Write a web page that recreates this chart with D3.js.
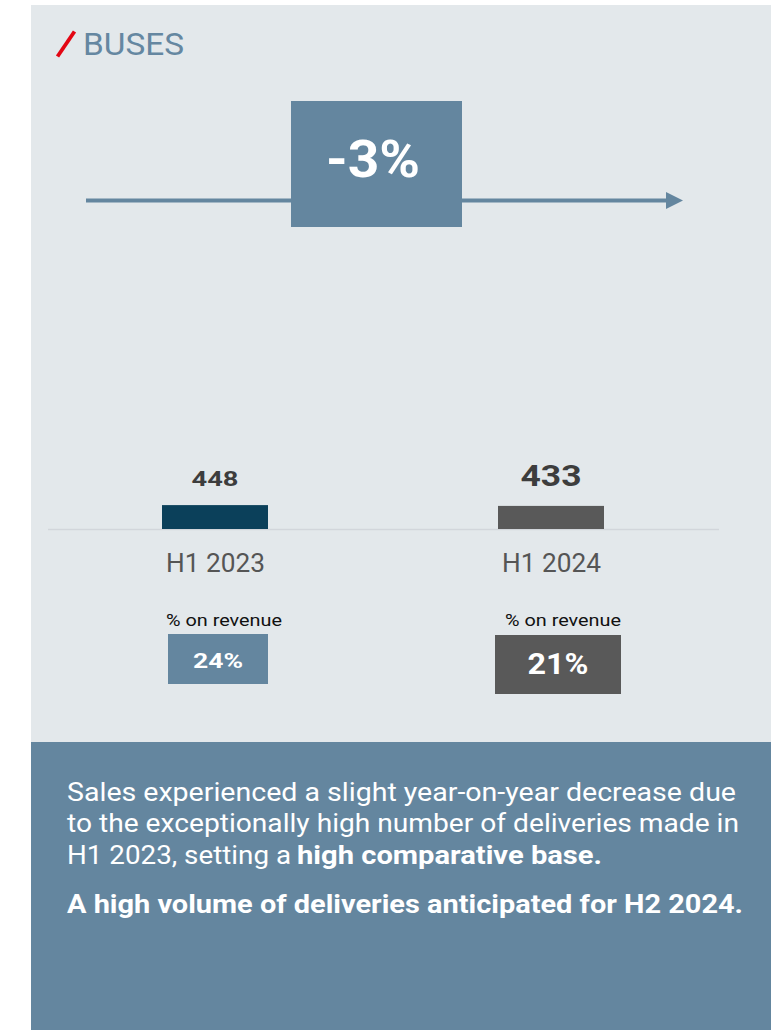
<!DOCTYPE html>
<html>
<head>
<meta charset="utf-8">
<script src="https://cdn.jsdelivr.net/npm/d3@7"></script>
<style>
  html, body { margin: 0; padding: 0; background: #ffffff; }
  svg { display: block; }
</style>
</head>
<body>
<svg id="chart" width="771" height="1030"></svg>
<script>
// Bus segment: units sold by half-year, share of revenue, year-on-year change
const categories = ["H1 2023", "H1 2024"];
const units = [448, 433];
const revenueShare = [24, 21];
const changeLabel = "-3%";
const title = "BUSES";
const shareCaption = "% on revenue";
const noteLines = [
  [{ t: "Sales experienced a slight year-on-year decrease due", b: false }],
  [{ t: "to the exceptionally high number of deliveries made in", b: false }],
  [{ t: "H1 2023, setting a ", b: false }, { t: "high comparative base.", b: true }],
  [{ t: "A high volume of deliveries anticipated for H2 2024.", b: true }]
];

const FONT = "Roboto, 'Open Sans', sans-serif";
const svg = d3.select("#chart");

// Panels
svg.append("rect").attr("x", 31).attr("y", 5).attr("width", 740).attr("height", 738).attr("fill", "#e3e8eb");
svg.append("rect").attr("x", 31).attr("y", 742).attr("width", 740).attr("height", 288).attr("fill", "#64869f");

// Title with red slash
svg.append("line").attr("x1", 57.5).attr("y1", 56.5).attr("x2", 74.5).attr("y2", 31.5)
  .attr("stroke", "#e30613").attr("stroke-width", 3.8).attr("stroke-linecap", "butt");
svg.append("text").attr("x", 83).attr("y", 55).attr("font-family", FONT).attr("font-size", 31)
  .attr("fill", "#6587a1").attr("textLength", 101).attr("lengthAdjust", "spacingAndGlyphs").text(title);

// Trend arrow with change box
const defs = svg.append("defs");
defs.append("marker").attr("id", "arrowHead").attr("viewBox", "0 0 10 10")
  .attr("refX", 0).attr("refY", 5).attr("markerUnits", "userSpaceOnUse")
  .attr("markerWidth", 18).attr("markerHeight", 17).attr("orient", "auto")
  .append("path").attr("d", "M0,0 L10,5 L0,10 Z").attr("fill", "#64869f");
svg.append("line").attr("x1", 86).attr("y1", 200.5).attr("x2", 666).attr("y2", 200.5)
  .attr("stroke", "#64869f").attr("stroke-width", 4).attr("marker-end", "url(#arrowHead)");
svg.append("rect").attr("x", 291).attr("y", 101).attr("width", 171).attr("height", 126).attr("fill", "#64869f");
svg.append("text").attr("x", 373).attr("y", 177).attr("text-anchor", "middle")
  .attr("font-family", FONT).attr("font-weight", 700).attr("font-size", 51).attr("fill", "#ffffff")
  .attr("textLength", 94).attr("lengthAdjust", "spacingAndGlyphs").text(changeLabel);

// Bar chart
const x = d3.scalePoint().domain(categories).range([215, 551]);
const y = d3.scaleLinear().domain([0, 450]).range([529, 505]);
const barW = 106;
const barColors = ["#0b405a", "#595959"];
const valueSizes = [21, 29.5];
const valueWidths = [47, 61];
const data = categories.map((c, i) => ({ c, v: units[i], s: revenueShare[i], i }));

// baseline
svg.append("line").attr("x1", 48).attr("x2", 719).attr("y1", y(0) + 0.5).attr("y2", y(0) + 0.5)
  .attr("stroke", "#d2d6db").attr("stroke-width", 1.5);

svg.selectAll("rect.bar").data(data).join("rect").attr("class", "bar")
  .attr("x", d => x(d.c) - barW / 2).attr("y", d => y(d.v))
  .attr("width", barW).attr("height", d => y(0) - y(d.v))
  .attr("fill", d => barColors[d.i]);

svg.selectAll("text.val").data(data).join("text").attr("class", "val")
  .attr("x", d => x(d.c)).attr("y", 486).attr("text-anchor", "middle")
  .attr("font-family", FONT).attr("font-weight", 700)
  .attr("font-size", d => valueSizes[d.i]).attr("fill", "#3d3d3d")
  .attr("textLength", d => valueWidths[d.i]).attr("lengthAdjust", "spacingAndGlyphs")
  .text(d => d.v);

// category axis labels
const xAxis = d3.axisBottom(x).tickSize(0).tickPadding(0);
const axisG = svg.append("g").attr("transform", "translate(0,572)").call(xAxis);
axisG.select(".domain").remove();
axisG.selectAll("text").attr("dy", 0).attr("y", 0)
  .attr("font-family", FONT).attr("font-size", 26).attr("fill", "#555555")
  .attr("textLength", 99).attr("lengthAdjust", "spacingAndGlyphs");

// revenue share boxes
const capX = [166, 505];
svg.selectAll("text.cap").data(data).join("text").attr("class", "cap")
  .attr("x", d => capX[d.i]).attr("y", 626)
  .attr("font-family", FONT).attr("font-size", 17).attr("fill", "#111111")
  .attr("textLength", 116).attr("lengthAdjust", "spacingAndGlyphs").text(shareCaption);

const boxes = [
  { x: 168, y: 634, w: 100, h: 50, fill: "#64869f", fs: 21, tw: 50, by: 668 },
  { x: 495, y: 635, w: 126, h: 59, fill: "#595959", fs: 29, tw: 61, by: 674 }
];
svg.selectAll("rect.share").data(data).join("rect").attr("class", "share")
  .attr("x", d => boxes[d.i].x).attr("y", d => boxes[d.i].y)
  .attr("width", d => boxes[d.i].w).attr("height", d => boxes[d.i].h)
  .attr("fill", d => boxes[d.i].fill);
svg.selectAll("text.share").data(data).join("text").attr("class", "share")
  .attr("x", d => boxes[d.i].x + boxes[d.i].w / 2).attr("y", d => boxes[d.i].by)
  .attr("text-anchor", "middle").attr("font-family", FONT).attr("font-weight", 700)
  .attr("font-size", d => boxes[d.i].fs).attr("fill", "#ffffff")
  .attr("textLength", d => boxes[d.i].tw).attr("lengthAdjust", "spacingAndGlyphs")
  .text(d => d.s + "%");

// Commentary
const lineY = [801, 832, 864, 913];
const segLayout = [
  [[67, 669]],
  [[67, 672]],
  [[67, 224], [297, 305]],
  [[67, 676]]
];
noteLines.forEach((segs, li) => {
  segs.forEach((s, si) => {
    const [sx, sw] = segLayout[li][si];
    svg.append("text").attr("x", sx).attr("y", lineY[li])
      .attr("font-family", FONT).attr("font-size", 25)
      .attr("font-weight", s.b ? 700 : 400).attr("fill", "#ffffff")
      .attr("textLength", sw).attr("lengthAdjust", "spacingAndGlyphs")
      .text(s.t.trimEnd());
  });
});
</script>
</body>
</html>
